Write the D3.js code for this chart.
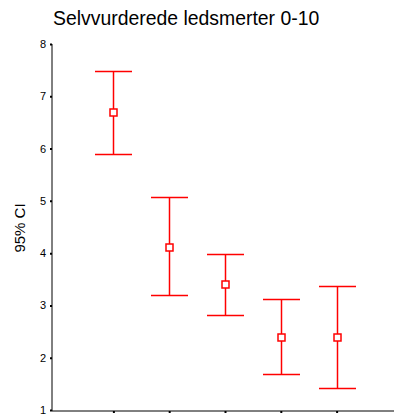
<!DOCTYPE html>
<html>
<head>
<meta charset="utf-8">
<script src="https://cdn.jsdelivr.net/npm/d3@7"></script>
<style>
  body { margin: 0; background: #fff; }
  svg { display: block; font-family: "Liberation Sans", Arial, sans-serif; }
</style>
</head>
<body>
<div id="chart"></div>
<script>
const title = "Selvvurderede ledsmerter 0-10";
const yLabel = "95% CI";
const groups = ["1", "2", "3", "4", "5"];
const means = [6.70, 4.12, 3.41, 2.40, 2.40];
const lower = [5.89, 3.20, 2.82, 1.69, 1.43];
const upper = [7.48, 5.07, 3.99, 3.13, 3.37];
const yTicks = [1, 2, 3, 4, 5, 6, 7, 8];

const width = 394, height = 416;
const plotLeft = 52, plotTop = 44, plotBottom = 410;

const svg = d3.select("#chart").append("svg")
  .attr("width", width)
  .attr("height", height);

const x = d3.scalePoint().domain(groups).range([plotLeft, 398]).padding(1.1);
const y = d3.scaleLinear().domain([1, 8]).range([plotBottom, plotTop]);

// title
svg.append("text")
  .attr("x", 53).attr("y", 25)
  .attr("font-size", 19.4)
  .attr("fill", "#000")
  .text(title);

// y axis
const yAxis = svg.append("g")
  .attr("transform", `translate(${plotLeft},0)`)
  .call(d3.axisLeft(y).tickValues(yTicks).tickFormat(d3.format("d")).tickSizeInner(2).tickSizeOuter(0).tickPadding(4));
yAxis.select(".domain").attr("stroke", "#000").attr("d", `M0,${plotTop}V${plotBottom + 1}`);
yAxis.selectAll(".tick line").attr("stroke", "#000").attr("stroke-width", 2);
yAxis.selectAll(".tick text").attr("font-size", 11).attr("fill", "#000");

// x axis
const xAxis = svg.append("g")
  .attr("transform", `translate(0,${plotBottom + 1})`)
  .call(d3.axisBottom(x).tickFormat("").tickSizeInner(2).tickSizeOuter(0));
xAxis.select(".domain").attr("stroke", "#000").attr("d", `M${plotLeft},0H${width}`);
xAxis.selectAll(".tick line").attr("stroke", "#000").attr("stroke-width", 2);

// y label
svg.append("text")
  .attr("transform", `translate(24.5,228) rotate(-90)`)
  .attr("text-anchor", "middle")
  .attr("font-size", 15)
  .attr("fill", "#000")
  .text(yLabel);

// error bars
const capW = 18.5;
const red = "#ff0000";
const lw = 1.5;
const g = svg.append("g").attr("fill", "none");
groups.forEach((grp, i) => {
  const cx = Math.round(x(grp)) + 0.5;
  g.append("line")
    .attr("x1", cx).attr("x2", cx)
    .attr("y1", Math.round(y(upper[i])) + 0.5).attr("y2", Math.round(y(lower[i])) + 0.5)
    .attr("stroke", red).attr("stroke-width", lw);
  [upper[i], lower[i]].forEach(v => {
    g.append("line")
      .attr("x1", cx - capW).attr("x2", cx + capW)
      .attr("y1", Math.round(y(v)) + 0.5).attr("y2", Math.round(y(v)) + 0.5)
      .attr("stroke", red).attr("stroke-width", lw);
  });
  const my = Math.round(y(means[i])) + 0.5;
  g.append("rect")
    .attr("x", cx - 3.5).attr("y", my - 3.5)
    .attr("width", 7).attr("height", 7)
    .attr("fill", "#fff")
    .attr("stroke", red).attr("stroke-width", lw);
});
</script>
</body>
</html>
